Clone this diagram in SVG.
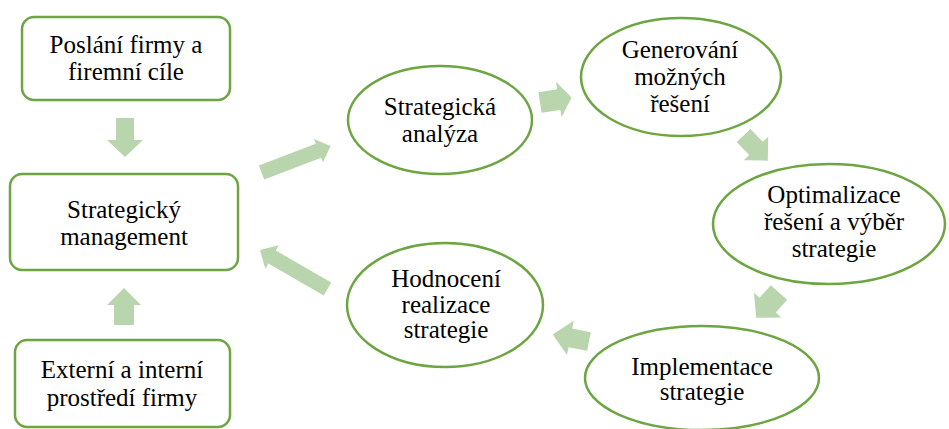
<svg xmlns="http://www.w3.org/2000/svg" width="949" height="429" viewBox="0 0 949 429" font-family="'Liberation Serif', 'Times New Roman', serif">
<style>
.node{fill:#fff;stroke:#6EA543;stroke-width:2.5}
.arr{fill:#B9D5AE;stroke:none}
.t{font-family:'Liberation Serif', 'Times New Roman', serif;font-size:25px;fill:#000;text-anchor:middle}
</style>
<rect width="949" height="429" fill="#fff"/>
<g id="connectors">
<polygon class="arr" transform="translate(125,118) rotate(90)" points="0,-9 22,-9 22,-18 39,0 22,18 22,9 0,9"/>
<polygon class="arr" transform="translate(124,325) rotate(-90)" points="0,-10 20,-10 20,-17 37,0 20,17 20,10 0,10"/>
<polygon class="arr" transform="translate(261.5,172.5) rotate(-21)" points="0,-7.5 61,-7.5 61,-12.5 74,0 61,12.5 61,7.5 0,7.5"/>
<polygon class="arr" transform="translate(540,102.5) rotate(-9)" points="0,-10.5 19,-10.5 19,-18 32,0 19,18 19,10.5 0,10.5"/>
<polygon class="arr" transform="translate(743.5,135.5) rotate(46)" points="0,-9.5 18,-9.5 18,-17 35,0 18,17 18,9.5 0,9.5"/>
<polygon class="arr" transform="translate(779,292.5) rotate(132)" points="0,-11 17,-11 17,-18.5 34,0 17,18.5 17,11 0,11"/>
<polygon class="arr" transform="translate(589,341.5) rotate(191)" points="0,-9.5 19,-9.5 19,-17.5 37,0 19,17.5 19,9.5 0,9.5"/>
<polygon class="arr" transform="translate(327.5,289) rotate(210)" points="0,-7.5 64,-7.5 64,-13.5 78,0 64,13.5 64,7.5 0,7.5"/>
</g>
<g id="poslani">
<rect class="node" x="22" y="17" width="208" height="83" rx="12"/>
<text class="t" x="126" y="53">Poslání firmy a</text>
<text class="t" x="126" y="80">firemní cíle</text>
</g>
<g id="management">
<rect class="node" x="10" y="174" width="228" height="96" rx="12"/>
<text class="t" x="124" y="218">Strategický</text>
<text class="t" x="124" y="245">management</text>
</g>
<g id="externi">
<rect class="node" x="15" y="340" width="215" height="87" rx="12"/>
<text class="t" x="122" y="378">Externí a interní</text>
<text class="t" x="122" y="406">prostředí firmy</text>
</g>
<g id="analyza">
<ellipse class="node" cx="440" cy="120" rx="92" ry="54"/>
<text class="t" x="440" y="115">Strategická</text>
<text class="t" x="440" y="142">analýza</text>
</g>
<g id="generovani">
<ellipse class="node" cx="681" cy="77" rx="100" ry="59"/>
<text class="t" x="680" y="58">Generování</text>
<text class="t" x="680" y="85">možných</text>
<text class="t" x="680" y="112">řešení</text>
</g>
<g id="optimalizace">
<ellipse class="node" cx="829" cy="224" rx="116" ry="60"/>
<text class="t" x="834" y="203">Optimalizace</text>
<text class="t" x="834" y="230">řešení a výběr</text>
<text class="t" x="834" y="257">strategie</text>
</g>
<g id="implementace">
<ellipse class="node" cx="702" cy="378" rx="117" ry="52"/>
<text class="t" x="702" y="375">Implementace</text>
<text class="t" x="702" y="400">strategie</text>
</g>
<g id="hodnoceni">
<ellipse class="node" cx="445" cy="305" rx="98" ry="62"/>
<text class="t" x="446" y="287">Hodnocení</text>
<text class="t" x="446" y="313">realizace</text>
<text class="t" x="446" y="338">strategie</text>
</g>
</svg>
